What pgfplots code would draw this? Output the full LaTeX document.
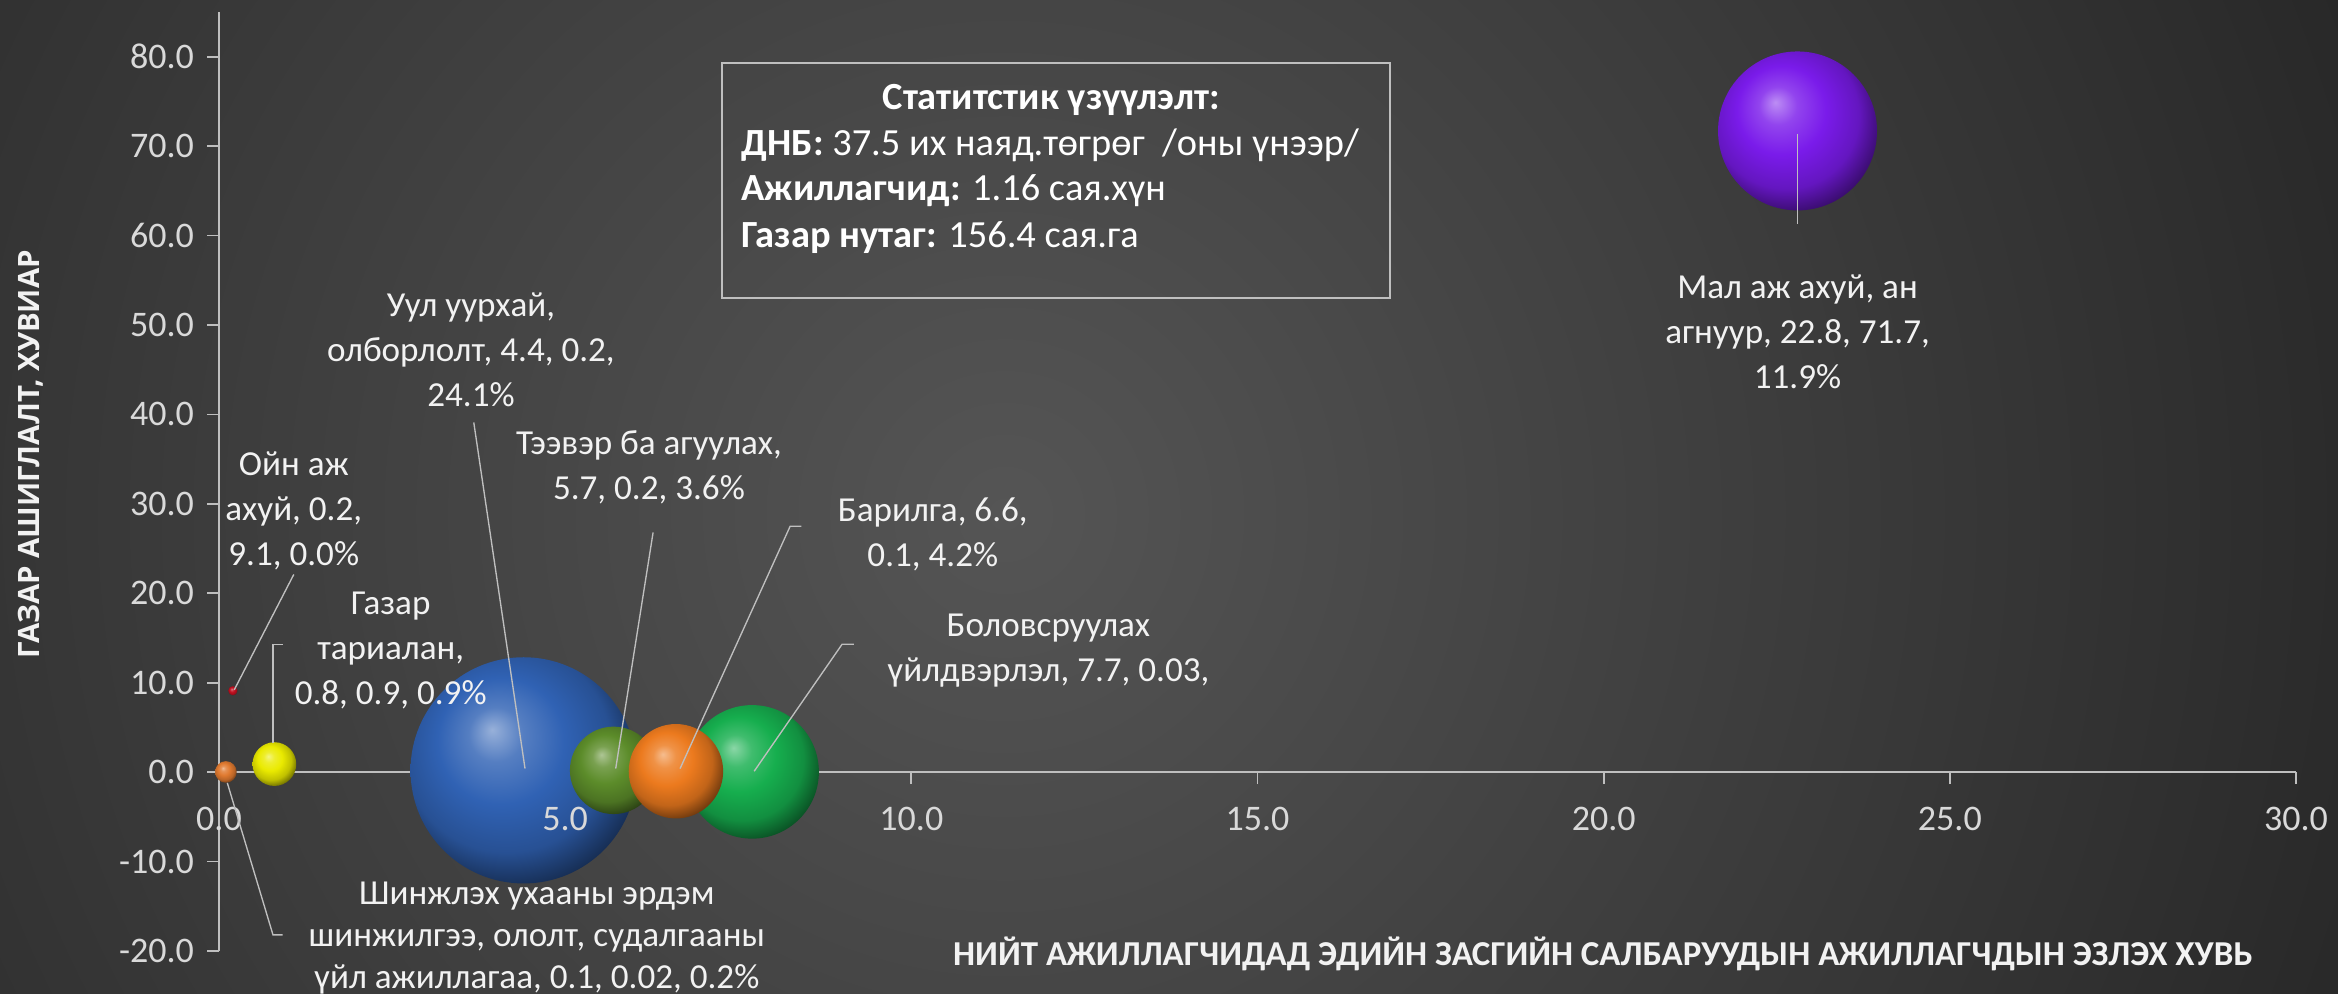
\documentclass[border=0pt]{standalone}
\usepackage{fontspec}
\setmainfont{Carlito}
\newfontfamily\osans{Open Sans}
\usepackage{pgfplots}
\pgfplotsset{compat=1.18}

\definecolor{bgdark}{HTML}{242424}
\definecolor{bglight}{HTML}{555555}
\definecolor{txt}{HTML}{F2F2F2}
\definecolor{ticktxt}{HTML}{D9D9D9}
\definecolor{axln}{HTML}{BFBFBF}
\definecolor{cblue}{HTML}{3062B4}
\definecolor{colive}{HTML}{5C8C2A}
\definecolor{corange}{HTML}{EC7A1E}
\definecolor{cgreen}{HTML}{16AE4E}
\definecolor{cyellow}{HTML}{EAEA00}
\definecolor{csmall}{HTML}{E07A30}
\definecolor{cred}{HTML}{C01020}
\definecolor{cpurple}{HTML}{7A1BEA}

\newcommand{\declareball}[2]{%
  \pgfdeclareradialshading{#1}{\pgfpoint{-7bp}{9bp}}{%
    color(0bp)=(#2!50!white); color(6bp)=(#2!82!white); color(14bp)=(#2);
    color(23bp)=(#2!82!black); color(30bp)=(#2!45!black); color(50bp)=(#2!30!black)}%
  \pgfdeclareplotmark{#1}{\pgfpathcircle{\pgfpointorigin}{\pgfplotmarksize}\pgfshadepath{#1}{0}\pgfusepath{}}%
}
\declareball{ballblue}{cblue}
\declareball{ballolive}{colive}
\declareball{ballorange}{corange}
\declareball{ballgreen}{cgreen}
\declareball{ballyellow}{cyellow}
\declareball{ballsmall}{csmall}
\declareball{ballred}{cred}
\declareball{ballpurple}{cpurple}

\pgfplotsset{
  bubble/.style={only marks, scatter, mark=#1,
   visualization depends on={sqrt(\thisrow{s})*7.68 \as \rad},
   scatter/@pre marker code/.append style={/tikz/mark size=\rad}},
  layers/mylayers/.define layer set={axis background,axis grid,axis ticks,axis lines,pre main,main,axis tick labels,axis descriptions,axis foreground}{/pgfplots/layers/standard},
}
\tikzset{
  lbl/.style={align=center, text=txt, font=\fontsize{11.7}{15}\selectfont, inner sep=0pt},
  ldr/.style={draw=axln, line width=0.45pt},
  boxtxt/.style={anchor=west, text=white, font=\fontsize{12.8}{15}\selectfont, inner sep=0pt},
}

\begin{document}
\begin{tikzpicture}
\begin{axis}[
  set layers=mylayers,
  at={(73pt,14.33pt)}, anchor=south west, scale only axis,
  width=692.33pt, height=313pt,
  xmin=0, xmax=30, ymin=-20, ymax=85,
  clip=false,
  axis x line=middle, axis y line=left,
  hide obscured x ticks=false, hide obscured y ticks=false,
  axis line style={-, draw=axln, line width=0.7pt},
  xtick={0,5,...,30}, ytick={-20,-10,...,80},
  tick align=outside, major tick length=4pt,
  tick style={draw=axln, line width=0.6pt},
  tick label style={/pgf/number format/fixed, /pgf/number format/fixed zerofill,
     /pgf/number format/precision=1, /pgf/number format/assume math mode=true,
     font=\fontsize{12}{14}\selectfont, text=ticktxt},
  xticklabel style={yshift=-4pt},
  yticklabel style={xshift=-0.8pt},
]
\begin{pgfonlayer}{axis background}
\fill[bgdark] (rel axis cs:-0.10544,-0.04578) rectangle (rel axis cs:1.02022,1.01278);
\begin{scope}
\clip (rel axis cs:-0.10544,-0.04578) rectangle (rel axis cs:1.02022,1.01278);
\shade[inner color=bglight, outer color=bgdark] (rel axis cs:0.3784,0.4654) ellipse (520pt and 520pt);
\end{scope}
\end{pgfonlayer}

\addplot[bubble=ballpurple] table[row sep=\\] {x y s\\ 22.8 71.7 11.9\\};
\addplot[bubble=ballblue]   table[row sep=\\] {x y s\\ 4.4 0.2 24.1\\};
\addplot[bubble=ballgreen]  table[row sep=\\] {x y s\\ 7.7 0.03 8.4\\};
\addplot[bubble=ballolive]  table[row sep=\\] {x y s\\ 5.7 0.2 3.6\\};
\addplot[bubble=ballorange] table[row sep=\\] {x y s\\ 6.6 0.1 4.2\\};
\addplot[bubble=ballyellow] table[row sep=\\] {x y s\\ 0.8 0.9 0.9\\};
\addplot[bubble=ballsmall]  table[row sep=\\] {x y s\\ 0.1 0.02 0.22\\};
\addplot[bubble=ballred]    table[row sep=\\] {x y s\\ 0.2 9.1 0.04\\};

\begin{pgfonlayer}{axis foreground}
% leader lines
\draw[ldr] (axis cs:3.68,39.1) -- (axis cs:4.42,0.4);
\draw[ldr] (axis cs:6.27,26.8) -- (axis cs:5.73,0.4);
\draw[ldr] (axis cs:8.41,27.5) -- (axis cs:8.25,27.5) -- (axis cs:6.66,0.4);
\draw[ldr] (axis cs:9.17,14.3) -- (axis cs:9.0,14.3) -- (axis cs:7.73,0.1);
\draw[ldr] (axis cs:1.08,22.1) -- (axis cs:0.22,9.2);
\draw[ldr] (axis cs:0.92,14.3) -- (axis cs:0.78,14.3) -- (axis cs:0.78,3.3);
\draw[ldr] (axis cs:0.12,-1.2) -- (axis cs:0.78,-18.2) -- (axis cs:0.92,-18.2);
\draw[ldr] (axis cs:22.8,71.4) -- (axis cs:22.8,61.3);

% data labels
\node[lbl] at (axis cs:3.64,47.2) {Уул уурхай,\\олборлолт, 4.4, 0.2,\\24.1\%};
\node[lbl] at (axis cs:6.21,34.1) {Тээвэр ба агуулах,\\5.7, 0.2, 3.6\%};
\node[lbl] at (axis cs:10.31,26.55) {Барилга, 6.6,\\0.1, 4.2\%};
\node[lbl] at (axis cs:11.98,13.55) {Боловсруулах\\үйлдвэрлэл, 7.7, 0.03,};
\node[lbl] at (axis cs:1.08,29.2) {Ойн аж\\ахуй, 0.2,\\9.1, 0.0\%};
\node[lbl] at (axis cs:2.48,13.6) {Газар\\тариалан,\\0.8, 0.9, 0.9\%};
\node[lbl, font=\fontsize{11.7}{14}\selectfont] at (axis cs:4.59,-18.5) {Шинжлэх ухааны эрдэм\\шинжилгээ, ололт, судалгааны\\үйл ажиллагаа, 0.1, 0.02, 0.2\%};
\node[lbl] at (axis cs:22.8,49.2) {Мал аж ахуй, ан\\агнуур, 22.8, 71.7,\\11.9\%};

% statistics box
\draw[draw=axln, line width=0.6pt] (axis cs:7.27,79.3) rectangle (axis cs:16.91,53.0);
\node[text=white, font=\bfseries\fontsize{12.8}{15}\selectfont, inner sep=0pt] at (axis cs:12.02,75.2) {Статитстик үзүүлэлт:};
\node[boxtxt] at (axis cs:7.54,70.1) {\textbf{ДНБ:} 37.5 их наяд.төгрөг \ /оны үнээр/};
\node[boxtxt] at (axis cs:7.54,65.0) {\textbf{Ажиллагчид:} 1.16 сая.хүн};
\node[boxtxt] at (axis cs:7.54,59.8) {\textbf{Газар нутаг:} 156.4 сая.га};

% axis titles
\node[text=txt, font=\bfseries\fontsize{11.65}{13}\selectfont, inner sep=0pt] at (rel axis cs:0.6663,-0.0032) {НИЙТ АЖИЛЛАГЧИДАД ЭДИЙН ЗАСГИЙН САЛБАРУУДЫН АЖИЛЛАГЧДЫН ЭЗЛЭХ ХУВЬ};
\node[rotate=90, text=txt, font=\osans\bfseries\fontsize{9.8}{12}\selectfont, inner sep=0pt] at (rel axis cs:-0.0905,0.529) {ГАЗАР АШИГЛАЛТ, ХУВИАР};
\end{pgfonlayer}
\end{axis}
\pgfresetboundingbox
\useasboundingbox (0,0) rectangle (779.33pt,331.33pt);
\end{tikzpicture}
\end{document}
